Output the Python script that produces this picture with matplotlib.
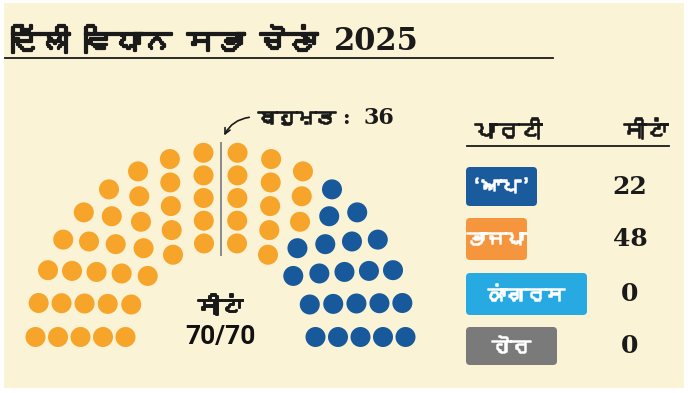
import numpy as np
import matplotlib
matplotlib.use('Agg')
import matplotlib.pyplot as plt
import matplotlib.patheffects as pe
from matplotlib.patches import Circle, FancyBboxPatch, Rectangle
from matplotlib import font_manager
from matplotlib.ft2font import FT2Font

# data
parties = ["‘ਆਪ’", "ਭਾਜਪਾ", "ਕਾਂਗਰਸ", "ਹੋਰ"]
seats = [22, 48, 0, 0]
party_colors = ["#1a5b9e", "#f5963f", "#27aae1", "#7a7a7a"]
dot_colors = ["#17599b", "#f7a42b", "#27aae1", "#7a7a7a"]
seat_order = [1, 0, 2, 3]          # left to right in the hemicycle
row_sizes = [10, 12, 14, 16, 18]
total_seats = 70
majority = 36

title = "ਦਿੱਲੀ ਵਿਧਾਨ ਸਭਾ ਚੋਣਾਂ"
year = "2025"
majority_word = "ਬਹੁਮਤ"
head_party = "ਪਾਰਟੀ"
head_seats = "ਸੀਟਾਂ"


def find_font(ch):
    for f in font_manager.fontManager.ttflist:
        try:
            if ord(ch) in FT2Font(f.fname).get_charmap():
                return f.name
        except Exception:
            pass
    return None


gur = find_font("ਦ")
fallback = [gur] if gur else []
serif = ['DejaVu Serif']
sans = ['Roboto', 'DejaVu Sans']
plt.rcParams['font.family'] = fallback + ['DejaVu Sans']


def bold(color, w=1.0):
    # the Gurmukhi face only comes in regular, thicken it a bit
    return [pe.withStroke(linewidth=w, foreground=color)]


W, H = 688, 393
fig = plt.figure(figsize=(W / 100, H / 100), dpi=100)
ax = fig.add_axes([0, 0, 1, 1])
ax.set_xlim(0, W)
ax.set_ylim(H, 0)
ax.axis('off')
fig.patch.set_facecolor('white')

ink = '#1a1a1a'

# cream panel
ax.add_patch(Rectangle((4, 3), 680, 385, facecolor="#fbf3d6", edgecolor='none', zorder=0))

# title + rule
t = ax.text(12, 41, title, fontsize=21, va='center', ha='left', color=ink,
            path_effects=bold(ink, 1.6))
fig.canvas.draw()
bb = t.get_window_extent(fig.canvas.get_renderer())
x_end = ax.transData.inverted().transform((bb.x1, 0))[0]
ax.text(max(x_end + 16, 330), 42, year, family=serif, fontsize=22, fontweight='bold',
        va='center', ha='left', color=ink)
ax.plot([5, 553], [58, 58], color=ink, lw=1.3)

# hemicycle layout
cx, cy = 220.5, 337
r0, dr = 95, 22.5
pts = []
for i, n in enumerate(row_sizes):
    r = r0 + dr * i
    for k in range(n):
        a = np.pi * k / (n - 1)
        pts.append((a, cx + r * np.cos(a), cy - r * np.sin(a)))
pts.sort(key=lambda p: -p[0])

cols = []
for idx in seat_order:
    cols += [dot_colors[idx]] * seats[idx]
for (a, x, y), c in zip(pts, cols):
    ax.add_patch(Circle((x, y), 10, facecolor=c, edgecolor='none', zorder=2))

# majority line + label
ax.plot([cx, cx], [143, 255], color='#8a8a8a', lw=1.4, zorder=1)
ax.annotate("", xy=(223, 138), xytext=(252, 117),
            arrowprops=dict(arrowstyle='->', color=ink, lw=1.2,
                            connectionstyle='arc3,rad=0.3'))
ax.text(258, 118, majority_word, fontsize=14, va='center', ha='left', color=ink,
        path_effects=bold(ink, 1.2))
ax.text(346, 118, ":", family=serif, fontsize=15, fontweight='bold',
        va='center', ha='center', color=ink)
ax.text(379, 118, str(majority), family=serif, fontsize=16, fontweight='bold',
        va='center', ha='center', color=ink)

# centre label
ax.text(cx, 306, head_seats, fontsize=16, ha='center', va='center',
        color=ink, path_effects=bold(ink, 1.4))
ax.text(cx, 337, f"{total_seats}/{total_seats}", family=sans, fontsize=19,
        fontweight='bold', ha='center', va='center', color='#111111')

# legend table
ax.text(475, 130, head_party, fontsize=16, ha='left', va='center',
        color=ink, path_effects=bold(ink, 1.2))
ax.text(668, 130, head_seats, fontsize=16, ha='right', va='center',
        color=ink, path_effects=bold(ink, 1.2))
ax.plot([467, 669], [146, 146], color=ink, lw=1.3)

box_y = [167, 218, 273, 327]
box_w = [71, 61, 121, 91]
box_h = [39, 42, 42, 38]
for i, p in enumerate(parties):
    ax.add_patch(FancyBboxPatch((466, box_y[i]), box_w[i], box_h[i],
                                boxstyle='round,pad=0,rounding_size=4',
                                facecolor=party_colors[i], edgecolor='none', zorder=2))
    ax.text(466 + box_w[i] / 2, box_y[i] + box_h[i] / 2, p, fontsize=14,
            color='white', ha='center', va='center', zorder=3,
            path_effects=bold('white', 1.1))
    ax.text(630, box_y[i] + box_h[i] / 2, str(seats[i]), family=serif, fontsize=18,
            fontweight='bold', color=ink, ha='center', va='center')

fig.savefig("out.png", dpi=100, facecolor=fig.get_facecolor())
